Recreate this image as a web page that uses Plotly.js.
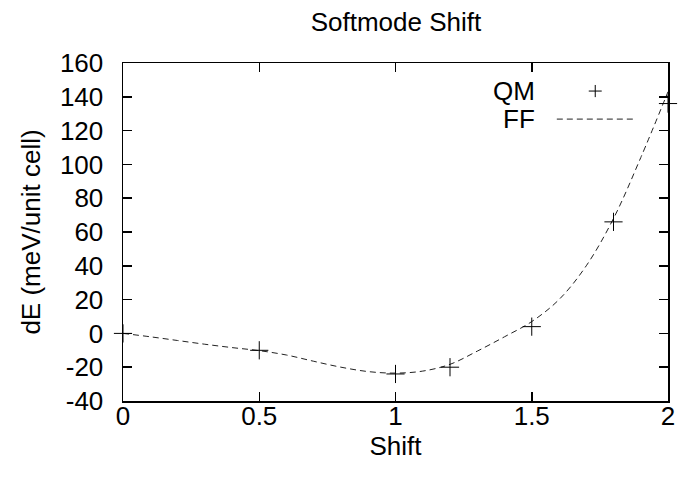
<!DOCTYPE html>
<html>
<head>
<meta charset="utf-8">
<script src="https://cdn.plot.ly/plotly-3.0.1.min.js"></script>
<style>html,body{margin:0;padding:0;background:#fff;}#chart{width:678px;height:479px;}</style>
</head>
<body>
<div id="chart"></div>
<script>
// QM data points
const qmShift = [0, 0.5, 1.0, 1.2, 1.5, 1.8, 2.0];
const qmEnergy = [0, -10, -24, -20, 4, 66, 136];

// FF fitted curve
const ffShift = [0, 0.1, 0.2, 0.3, 0.4, 0.5, 0.6, 0.7, 0.8, 0.9, 1.0, 1.1, 1.2, 1.3, 1.4, 1.5, 1.6, 1.7, 1.8, 1.9, 2.0];
const ffEnergy = [0, -2, -4.2, -6.4, -8.4, -10.2, -12.8, -16.5, -20, -22.6, -23.5, -22.3, -18.3, -10.5, -2, 7, 20, 40, 68, 104, 143];

const xTicks = [0, 0.5, 1, 1.5, 2];
const xTickText = ['0', '0.5', '1', '1.5', '2'];
const yTicks = [-40, -20, 0, 20, 40, 60, 80, 100, 120, 140, 160];
const yTickText = ['-40', '-20', '0', '20', '40', '60', '80', '100', '120', '140', '160'];

const FONT = 'Liberation Sans, Arial, Helvetica, sans-serif';
const FS = 26;

const traces = [
  {
    x: ffShift, y: ffEnergy, type: 'scatter', mode: 'lines', name: 'FF',
    line: {color: '#222', width: 1, dash: '6px,4px', shape: 'spline', smoothing: 1},
    showlegend: false, hoverinfo: 'skip'
  },
  {
    x: qmShift, y: qmEnergy, type: 'scatter', mode: 'markers', name: 'QM',
    marker: {symbol: 'cross-thin-open', size: 13, color: '#000', line: {color: '#000', width: 1}},
    cliponaxis: false, showlegend: false
  }
];

const layout = {
  width: 678, height: 479,
  margin: {l: 123, r: 10, t: 63, b: 78},
  paper_bgcolor: '#fff', plot_bgcolor: '#fff',
  font: {family: FONT, size: FS, color: '#000'},
  title: {text: 'Softmode Shift', font: {family: FONT, size: FS, color: '#000'}, x: 0.584, xanchor: 'center', y: 0.955, yanchor: 'middle'},
  showlegend: false,
  xaxis: {
    range: [0, 2], tickvals: xTicks, ticktext: xTickText,
    ticks: 'inside', ticklen: 9, tickwidth: 1.5, tickcolor: '#000',
    showline: true, linecolor: '#000', linewidth: 1.5, mirror: 'ticks',
    showgrid: false, zeroline: false, ticklabelstandoff: -9,
    tickfont: {family: FONT, size: FS, color: '#000'},
    title: {text: 'Shift', font: {family: FONT, size: FS, color: '#000'}, standoff: 0}
  },
  yaxis: {
    range: [-40, 160], tickvals: yTicks, ticktext: yTickText,
    ticks: 'inside', ticklen: 9, tickwidth: 1.5, tickcolor: '#000',
    showline: true, linecolor: '#000', linewidth: 1.5, mirror: 'ticks',
    showgrid: false, zeroline: false, ticklabelstandoff: 13,
    tickfont: {family: FONT, size: FS, color: '#000'},
    title: {text: 'dE (meV/unit cell)', font: {family: FONT, size: FS, color: '#000'}, standoff: 12}
  },
  annotations: [
    {xref: 'paper', yref: 'paper', x: 0.7596, y: 0.917, xanchor: 'right', yanchor: 'middle', text: 'QM', showarrow: false, font: {family: FONT, size: FS, color: '#000'}},
    {xref: 'paper', yref: 'paper', x: 0.7596, y: 0.834, xanchor: 'right', yanchor: 'middle', text: 'FF', showarrow: false, font: {family: FONT, size: FS, color: '#000'}}
  ],
  shapes: [
    {type: 'line', xref: 'paper', yref: 'paper', x0: 0.796, x1: 0.941, y0: 0.834, y1: 0.834, line: {color: '#222', width: 1, dash: '6px,4px'}},
    {type: 'line', xref: 'paper', yref: 'paper', x0: 0.8546, x1: 0.8784, y0: 0.917, y1: 0.917, line: {color: '#000', width: 1}},
    {type: 'line', xref: 'paper', yref: 'paper', x0: 0.8665, x1: 0.8665, y0: 0.899, y1: 0.935, line: {color: '#000', width: 1}}
  ]
};

Plotly.newPlot('chart', traces, layout, {displayModeBar: false, staticPlot: true});
</script>
</body>
</html>
